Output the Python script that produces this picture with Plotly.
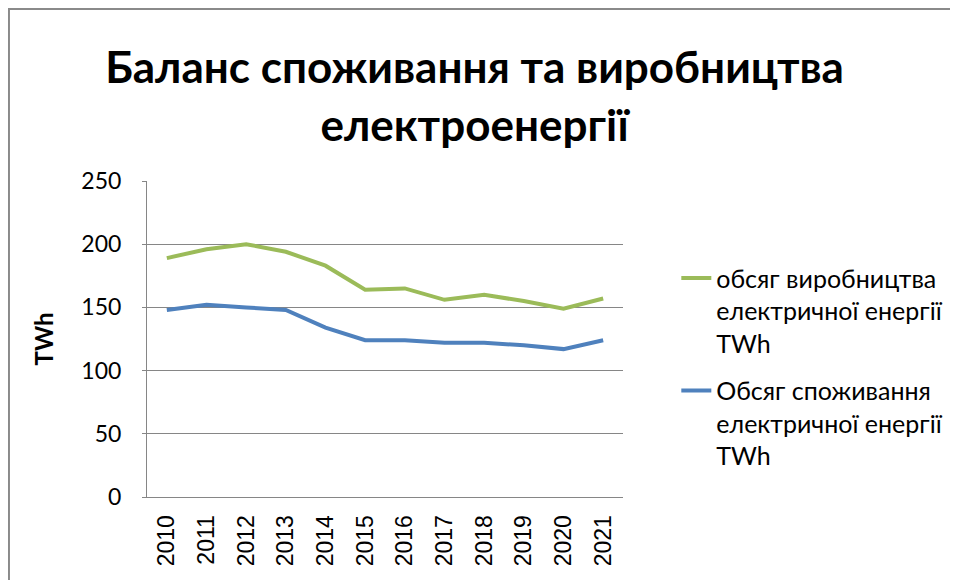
import plotly.graph_objects as go

years = ["2010", "2011", "2012", "2013", "2014", "2015",
         "2016", "2017", "2018", "2019", "2020", "2021"]
production = [189, 196, 200, 194, 183, 164, 165, 156, 160, 155, 149, 157]
consumption = [148, 152, 150, 148, 134, 124, 124, 122, 122, 120, 117, 124]

name_prod = "обсяг виробництва<br>електричної енергії<br>TWh"
name_cons = "Обсяг споживання<br>електричної енергії<br>TWh"

FONT = "Lato, Carlito, Calibri, sans-serif"

fig = go.Figure()
fig.add_trace(go.Scatter(x=years, y=production, mode="lines", name=name_prod,
                         legendgroup="a",
                         line=dict(color="#9BBB59", width=4)))
fig.add_trace(go.Scatter(x=years, y=consumption, mode="lines", name=name_cons,
                         legendgroup="b",
                         line=dict(color="#4F81BD", width=4)))

fig.update_layout(
    width=958, height=580,
    margin=dict(l=139, r=343, t=173, b=91),
    paper_bgcolor="white", plot_bgcolor="white",
    font=dict(family=FONT, color="black"),
    title=dict(text="<b>Баланс споживання та виробництва<br>електроенергії</b>",
               font=dict(size=44, family=FONT, color="black"),
               x=0.487, xanchor="center", y=0.87, yanchor="top"),
    legend=dict(x=1.112, y=0.765, xanchor="left", yanchor="top", valign="top",
                font=dict(size=25, family=FONT), tracegroupgap=12,
                traceorder="grouped", bgcolor="rgba(0,0,0,0)"),
    showlegend=True,
)
fig.update_xaxes(type="category", range=[-0.5, 11.5], tickangle=-90,
                 showline=True, linecolor="#868686", linewidth=1,
                 showgrid=False, ticks="", ticklabelstandoff=8,
                 tickfont=dict(family="Liberation Sans, Arial", size=23))
fig.update_yaxes(range=[0, 250], dtick=50, showline=True, linecolor="#868686",
                 linewidth=1, showgrid=True, gridcolor="#868686", gridwidth=1,
                 zeroline=False, ticks="outside", ticklen=4, tickcolor="#868686",
                 ticklabelstandoff=16, tickfont=dict(size=23, family=FONT),
                 title=dict(text="<b>TWh</b>", font=dict(size=24, family=FONT),
                            standoff=20))

# outer chart border
fig.add_shape(type="rect", xref="paper", yref="paper",
              x0=-0.29, x1=1.75, y0=-0.4, y1=1.544,
              line=dict(color="#8a8a8a", width=2), fillcolor="rgba(0,0,0,0)",
              layer="below")

fig.write_html("out.html")
